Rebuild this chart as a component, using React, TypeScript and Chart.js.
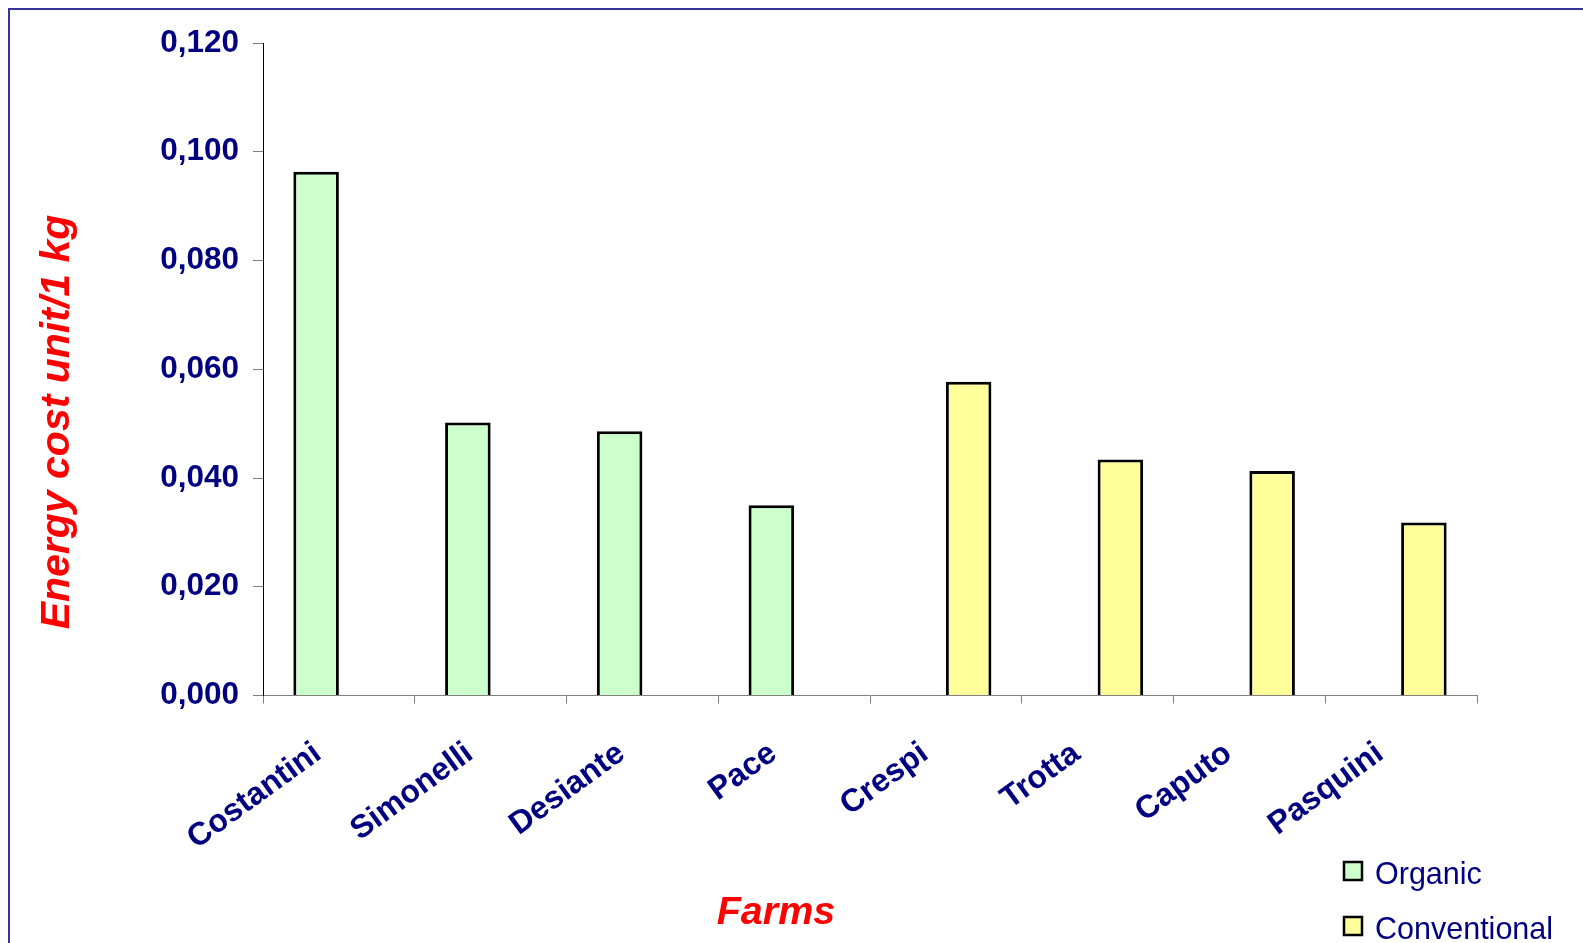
import React, { useEffect, useRef } from 'react';
import { Chart, registerables } from 'chart.js';

Chart.register(...registerables);

const farms = ['Costantini', 'Simonelli', 'Desiante', 'Pace', 'Crespi', 'Trotta', 'Caputo', 'Pasquini'];
const organicValues = [0.0963, 0.0502, 0.0486, 0.035, null, null, null, null];
const conventionalValues = [null, null, null, null, 0.0577, 0.0434, 0.0413, 0.0318];
const yTickValues = [0, 0.02, 0.04, 0.06, 0.08, 0.1, 0.12];
const yTickLabels = ['0,000', '0,020', '0,040', '0,060', '0,080', '0,100', '0,120'];
const seriesNames = ['Organic', 'Conventional'];
const seriesColors = ['#CCFFCC', '#FFFF99'];
const xTitle = 'Farms';
const yTitle = 'Energy cost unit/1 kg';

const FONT = '"Liberation Sans", Arial, sans-serif';
const NAVY = '#000080';

const extrasPlugin = {
  id: 'extras',
  afterDraw(chart: any) {
    const ctx = chart.ctx;
    ctx.save();
    // axis titles
    ctx.fillStyle = '#FF0000';
    ctx.font = `italic bold 39.5px ${FONT}`;
    ctx.textAlign = 'center';
    ctx.textBaseline = 'alphabetic';
    ctx.fillText(xTitle, 766, 914);
    ctx.font = `italic bold 41px ${FONT}`;
    ctx.save();
    ctx.translate(59, 412);
    ctx.rotate(-Math.PI / 2);
    ctx.fillText(yTitle, 0, 0);
    ctx.restore();
    // legend
    const ds = chart.data.datasets;
    ctx.font = `30.5px ${FONT}`;
    ctx.textAlign = 'left';
    for (let i = 0; i < ds.length; i++) {
      const bx = 1334;
      const by = 852 + i * 55;
      ctx.fillStyle = ds[i].backgroundColor;
      ctx.fillRect(bx, by, 18, 18);
      ctx.strokeStyle = '#000';
      ctx.lineWidth = 2.5;
      ctx.strokeRect(bx, by, 18, 18);
      ctx.fillStyle = NAVY;
      ctx.fillText(ds[i].label, 1365, by + 21.5);
    }
    ctx.restore();
  },
};

export default function App() {
  const ref = useRef<HTMLCanvasElement | null>(null);

  useEffect(() => {
    if (!ref.current) return;
    const chart = new Chart(ref.current, {
      type: 'bar',
      data: {
        labels: farms,
        datasets: [
          {
            label: seriesNames[0],
            data: organicValues,
            backgroundColor: seriesColors[0],
            borderColor: '#000000',
            borderWidth: 3,
          },
          {
            label: seriesNames[1],
            data: conventionalValues,
            backgroundColor: seriesColors[1],
            borderColor: '#000000',
            borderWidth: 3,
          },
        ],
      },
      options: {
        responsive: false,
        animation: false,
        devicePixelRatio: 1,
        datasets: {
          bar: {
            categoryPercentage: 0.6,
            barPercentage: 1,
          },
        },
        layout: {
          padding: { left: 0, right: 106, top: 33, bottom: 0 },
        },
        plugins: {
          legend: { display: false },
          tooltip: { enabled: false },
          title: { display: false },
        },
        scales: {
          x: {
            offset: true,
            grid: {
              display: true,
              drawOnChartArea: false,
              drawTicks: true,
              tickLength: 8,
              color: '#808080',
              offset: true,
            },
            border: { display: true, color: '#808080', width: 1 },
            ticks: {
              color: NAVY,
              font: { family: FONT, size: 32, weight: 'bold' },
              minRotation: 36,
              maxRotation: 36,
              autoSkip: false,
              padding: 31,
              labelOffset: -21,
            },
            afterFit: (scale: any) => {
              scale.height = 247.5;
            },
          },
          y: {
            min: 0,
            max: 0.12,
            grid: {
              display: true,
              drawOnChartArea: false,
              drawTicks: true,
              tickLength: 10,
              color: '#808080',
            },
            border: { display: true, color: '#000000', width: 1 },
            afterBuildTicks: (scale: any) => {
              scale.ticks = yTickValues.map((v) => ({ value: v }));
            },
            ticks: {
              color: NAVY,
              font: { family: FONT, size: 31.5, weight: 'bold' },
              padding: 14,
              callback: (_v: any, i: number) => yTickLabels[i],
            },
            afterFit: (scale: any) => {
              scale.width = 253;
            },
          },
        },
      },
      plugins: [extrasPlugin],
    });
    return () => chart.destroy();
  }, []);

  return (
    <div
      style={{
        position: 'fixed',
        left: 8,
        top: 8,
        width: 1575,
        height: 935,
        boxSizing: 'border-box',
        borderTop: '2px solid #333399',
        borderLeft: '2px solid #333399',
        background: '#fff',
      }}
    >
      <canvas ref={ref} width={1573} height={933} style={{ display: 'block' }} />
    </div>
  );
}
